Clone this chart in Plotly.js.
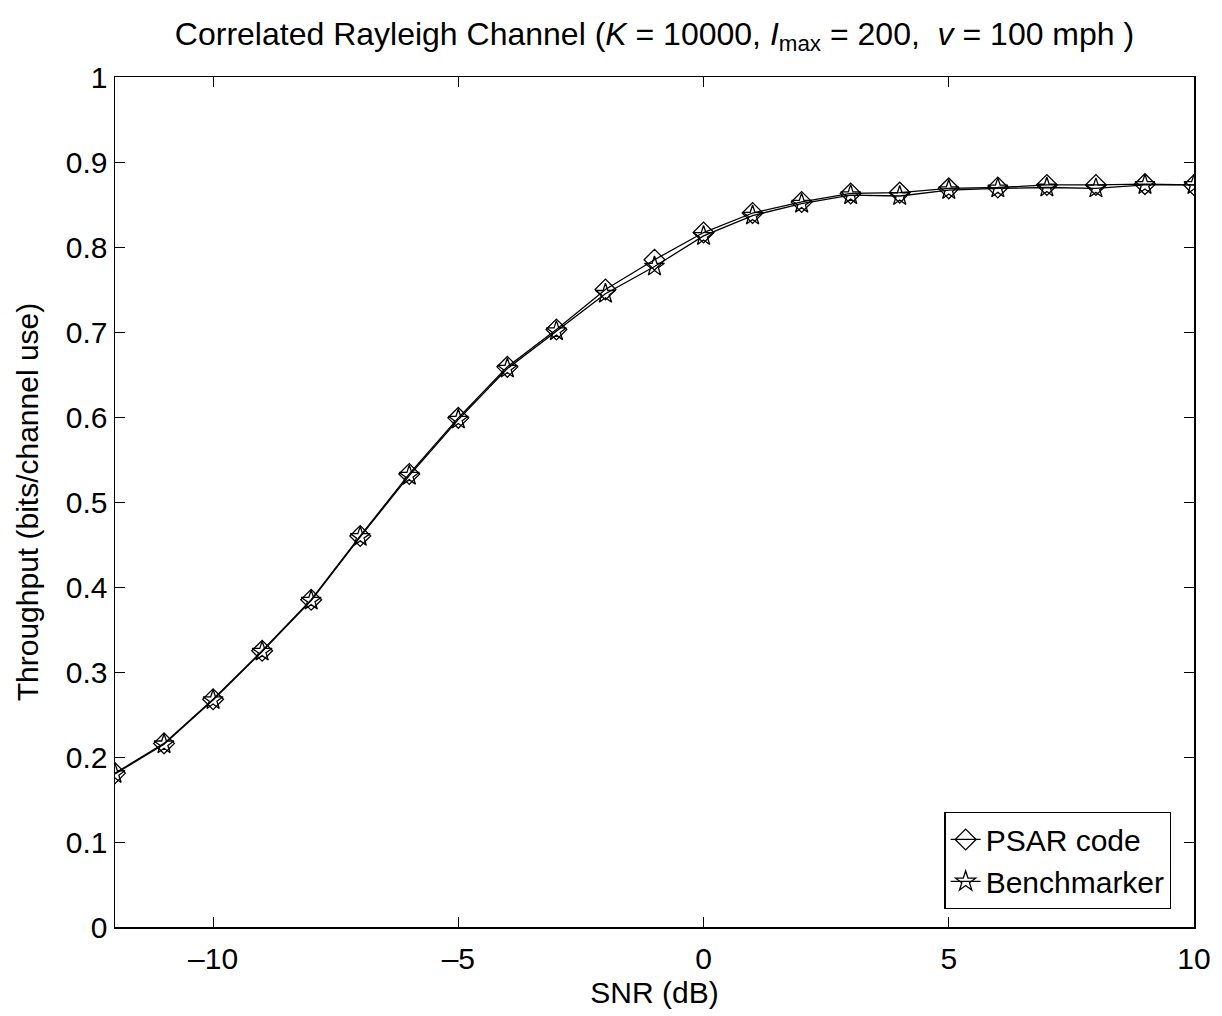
<!DOCTYPE html>
<html>
<head>
<meta charset="utf-8">
<script src="https://cdn.plot.ly/plotly-3.0.1.min.js"></script>
<style>html,body{margin:0;padding:0;background:#fff;}#chart{width:1222px;height:1016px;}</style>
</head>
<body>
<div id="chart"></div>
<script>
const snr = [-12,-11,-10,-9,-8,-7,-6,-5,-4,-3,-2,-1,0,1,2,3,4,5,6,7,8,9,10];
const psar = [0.181,0.216,0.268,0.325,0.385,0.460,0.533,0.599,0.659,0.703,0.750,0.785,0.817,0.840,0.853,0.863,0.864,0.869,0.870,0.873,0.873,0.874,0.873];
const bench = [0.180,0.215,0.267,0.324,0.384,0.459,0.531,0.597,0.657,0.701,0.745,0.777,0.813,0.837,0.851,0.861,0.860,0.867,0.869,0.870,0.869,0.873,0.873];
const yTicks = [0,0.1,0.2,0.3,0.4,0.5,0.6,0.7,0.8,0.9,1];
const yTickText = ['0','0.1','0.2','0.3','0.4','0.5','0.6','0.7','0.8','0.9','1'];
const xTicks = [-10,-5,0,5,10];
const xTickText = ['\u201310','\u20135','0','5','10'];

const FONT = 'Liberation Sans, Arial, sans-serif';
const traces = [
  {x: snr, y: psar, name: 'PSAR code', mode: 'lines+markers',
   line: {color: '#000', width: 1.3},
   marker: {symbol: 'diamond-open', size: 16, color: '#000', line: {width: 1.3, color: '#000'}}},
  {x: snr, y: bench, name: 'Benchmarker', mode: 'lines+markers',
   line: {color: '#000', width: 1.3},
   marker: {symbol: 'star-open', size: 15, color: '#000', line: {width: 1.3, color: '#000'}}}
];
const axisCommon = {
  showgrid: false, zeroline: false, showline: true, linecolor: '#000', linewidth: 1.5,
  mirror: 'ticks', ticks: 'inside', ticklen: 10, tickwidth: 1, tickcolor: '#000',
  tickfont: {family: FONT, size: 30, color: '#000'}
};
const layout = {
  width: 1222, height: 1016,
  paper_bgcolor: '#fff', plot_bgcolor: '#fff',
  margin: {l: 115, r: 28, t: 77, b: 89},
  font: {family: FONT, color: '#000'},
  title: {text: 'Correlated Rayleigh Channel (<i>K</i> = 10000, <i>I</i><sub>max</sub> = 200,  <i>v</i> = 100 mph )',
          font: {family: FONT, size: 32, color: '#000'}, xref: 'paper', x: 0.5, xanchor: 'center', y: 0.967, yanchor: 'middle'},
  xaxis: Object.assign({}, axisCommon, {range: [-12, 10], tickvals: xTicks, ticktext: xTickText, ticklabelstandoff: 4,
          title: {text: 'SNR (dB)', font: {family: FONT, size: 30, color: '#000'}, standoff: 8}}),
  yaxis: Object.assign({}, axisCommon, {range: [0, 1], tickvals: yTicks, ticktext: yTickText,
          title: {text: 'Throughput (bits/channel use)', font: {family: FONT, size: 30, color: '#000'}, standoff: 18}}),
  legend: {x: 0.979, xanchor: 'right', y: 0.021, yanchor: 'bottom',
           bgcolor: '#fff', bordercolor: '#000', borderwidth: 1.3,
           font: {family: FONT, size: 30, color: '#000'}, tracegroupgap: 0},
  showlegend: true
};
Plotly.newPlot('chart', traces, layout, {displayModeBar: false, staticPlot: true});
</script>
</body>
</html>
